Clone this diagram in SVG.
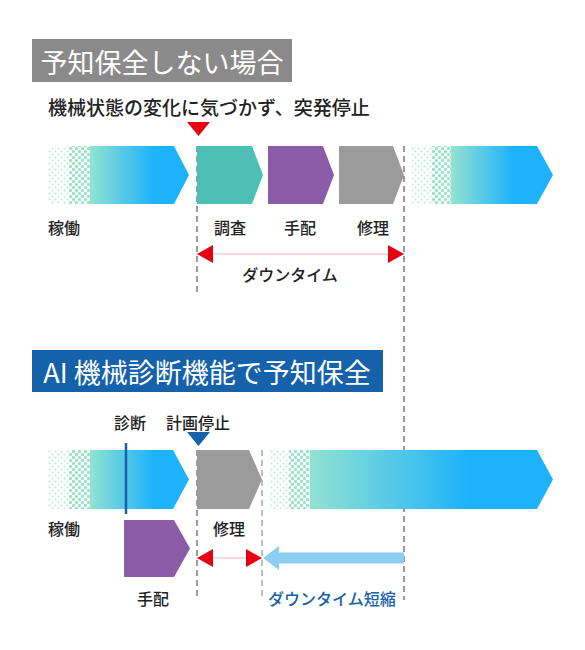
<svg xmlns="http://www.w3.org/2000/svg" width="585" height="650" viewBox="0 0 585 650">
<style>
text{font-family:"Noto Sans CJK JP","Noto Sans",sans-serif;dominant-baseline:central}
.title{font-size:27px;fill:#fff;font-weight:400;text-anchor:middle}
.lbl{font-size:16px;fill:#222;font-weight:500;text-anchor:middle}
.lbll{font-size:16px;fill:#222;font-weight:500}
.dash{stroke:#666;stroke-width:1.3;stroke-dasharray:6 4;fill:none}
.dashl{stroke:#999;stroke-width:1.3;stroke-dasharray:6 4;fill:none}
.red{stroke:#f8b4bc;stroke-width:1.2;fill:none}
</style>
<defs>
<pattern id="dotS" width="6" height="6" patternUnits="userSpaceOnUse">
<circle cx="1.5" cy="1.5" r="1" fill="#b0eecb"/><circle cx="4.5" cy="4.5" r="1" fill="#b0eecb"/>
</pattern>
<pattern id="dotL" width="6" height="6" patternUnits="userSpaceOnUse">
<circle cx="1.5" cy="1.5" r="1.7" fill="#9be5c6"/><circle cx="4.5" cy="4.5" r="1.7" fill="#9be5c6"/>
</pattern>
<linearGradient id="g1" gradientUnits="userSpaceOnUse" x1="48" y1="0" x2="189" y2="0">
<stop offset="0" stop-color="#fff" stop-opacity="0"/><stop offset="0.29" stop-color="#fff" stop-opacity="0"/><stop offset="0.3" stop-color="#92e2d2"/><stop offset="0.75" stop-color="#1eb2fa"/><stop offset="1" stop-color="#1eb2fa"/>
</linearGradient>
<linearGradient id="g2" gradientUnits="userSpaceOnUse" x1="412" y1="0" x2="553" y2="0">
<stop offset="0" stop-color="#fff" stop-opacity="0"/><stop offset="0.27" stop-color="#fff" stop-opacity="0"/><stop offset="0.28" stop-color="#92e2d2"/><stop offset="0.72" stop-color="#1eb2fa"/><stop offset="1" stop-color="#1eb2fa"/>
</linearGradient>
<linearGradient id="g3" gradientUnits="userSpaceOnUse" x1="269" y1="0" x2="553" y2="0">
<stop offset="0" stop-color="#fff" stop-opacity="0"/><stop offset="0.14" stop-color="#fff" stop-opacity="0"/><stop offset="0.145" stop-color="#92e2d2"/><stop offset="0.7" stop-color="#1eb2fa"/><stop offset="1" stop-color="#1eb2fa"/>
</linearGradient>
<marker id="ah" viewBox="0 0 16 18" refX="16" refY="9" markerWidth="16" markerHeight="18" markerUnits="userSpaceOnUse" orient="auto-start-reverse">
<path d="M0 0 L16 9 L0 18 Z" fill="#e60012"/>
</marker>
</defs>

<g id="title1">
<rect x="32" y="39" width="260" height="43" fill="#8a8a8a"/>
<text class="title" x="162" y="61">予知保全しない場合</text>
</g>
<g id="subtitle1">
<text x="48" y="106" style="font-size:19px;font-weight:500;fill:#222">機械状態の変化に気づかず、突発停止</text>
<path d="M187 122 L210 122 L198.5 136 Z" fill="#e60012"/>
</g>

<g id="connectors">
<path class="dash" d="M197 146 V293"/>
<path class="dash" d="M404 146 V600"/>
<path class="dash" d="M197 450 V598"/>
<path class="dashl" d="M262 450 V598"/>
<path class="red" d="M197 254 H404" marker-start="url(#ah)" marker-end="url(#ah)"/>
<path class="red" d="M197 558 H262" marker-start="url(#ah)" marker-end="url(#ah)"/>
<path d="M263 558 L279 546 L279 552.5 L404 552.5 L404 563.5 L279 563.5 L279 570 Z" fill="#8ccdf2"/>
</g>

<g id="run1a">
<path d="M48 146 H174 L189 175 L174 204 H48 Z" fill="url(#g1)"/>
<rect x="48" y="146" width="21" height="58" fill="url(#dotS)"/>
<rect x="69" y="146" width="21" height="58" fill="url(#dotL)"/>
<text class="lbll" x="48" y="227">稼働</text>
</g>
<g id="survey">
<path d="M197 146 H252 L263 175 L252 204 H197 Z" fill="#4dbfb5"/>
<text class="lbl" x="230" y="227">調査</text>
</g>
<g id="arrange1">
<path d="M268 146 H323 L334 175 L323 204 H268 Z" fill="#8b5ca8"/>
<text class="lbl" x="300" y="227">手配</text>
</g>
<g id="repair1">
<path d="M339 146 H393 L404 175 L393 204 H339 Z" fill="#9b9b9b"/>
<text class="lbl" x="373" y="227">修理</text>
</g>
<g id="run1b">
<path d="M412 146 H537 L553 175 L537 204 H412 Z" fill="url(#g2)"/>
<rect x="412" y="146" width="20" height="58" fill="url(#dotS)"/>
<rect x="432" y="146" width="20" height="58" fill="url(#dotL)"/>
</g>
<g id="downtime1">
<text class="lbl" x="290" y="274">ダウンタイム</text>
</g>

<g id="title2">
<rect x="32" y="350" width="351" height="42" fill="#1662aa"/>
<text class="title" x="207" y="371">AI 機械診断機能で予知保全</text>
</g>
<g id="diagnosis">
<text class="lbl" x="130" y="422">診断</text>
<path d="M126 443 V514" stroke="#1662aa" stroke-width="2.5"/>
</g>
<g id="planned">
<text class="lbl" x="198" y="422">計画停止</text>
<path d="M187 432 L210 432 L198.5 446 Z" fill="#1662aa"/>
</g>
<g id="run2a">
<path d="M48 450 H173 L189 479.5 L173 509 H48 Z" fill="url(#g1)"/>
<rect x="48" y="450" width="21" height="59" fill="url(#dotS)"/>
<rect x="69" y="450" width="21" height="59" fill="url(#dotL)"/>
<path d="M126 450 V509" stroke="#1662aa" stroke-width="2.5"/>
<text class="lbll" x="48" y="528">稼働</text>
</g>
<g id="repair2">
<path d="M197 450 H249 L262 479.5 L249 509 H197 Z" fill="#9b9b9b"/>
<text class="lbl" x="229" y="528">修理</text>
</g>
<g id="arrange2">
<path d="M124 520 H174 L190 548.5 L174 577 H124 Z" fill="#8b5ca8"/>
<text class="lbl" x="153" y="598">手配</text>
</g>
<g id="run2b">
<path d="M269 450 H537 L553 479.5 L537 509 H269 Z" fill="url(#g3)"/>
<rect x="269" y="450" width="20" height="59" fill="url(#dotS)"/>
<rect x="289" y="450" width="20" height="59" fill="url(#dotL)"/>
</g>
<g id="downtime2">
<text x="268" y="598" style="font-size:16px;font-weight:500;fill:#1662aa">ダウンタイム短縮</text>
</g>
</svg>
